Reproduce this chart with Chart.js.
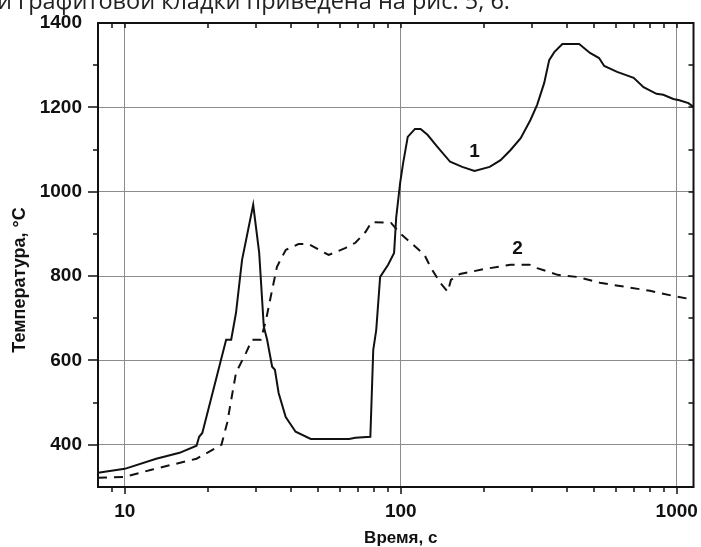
<!DOCTYPE html>
<html>
<head>
<meta charset="utf-8">
<script src="https://cdn.jsdelivr.net/npm/chart.js@4.4.0/dist/chart.umd.min.js"></script>
<style>
  body { margin: 0; background: #fff; }
  #wrap { position: relative; width: 701px; height: 547px; overflow: hidden; }
  #tempChart { position: absolute; left: 0; top: 0; }
  #caption { position: absolute; left: -3px; top: -11px; font: 23.5px/23.5px "Open Sans", sans-serif; color: #222; white-space: nowrap; }
</style>
</head>
<body>
<div id="wrap">
  <canvas id="tempChart" width="701" height="547"></canvas>
  <div id="caption">и графитовой кладки приведена на рис. 5, 6.</div>
</div>
<script>
// curve 1 (solid)
var time1 = [8, 10, 13, 15.8, 18.2, 18.6, 19.1, 23.3, 24.3, 25.3, 26.6, 29.2, 30.7, 31.9, 32.8, 34.2, 35, 36.1, 38.3, 41.6,
  47.2, 65, 68.5, 77.6, 79.5, 81.5, 84.2, 90, 94.6, 96.3, 99.5, 102, 106, 112.6, 118, 125, 136, 151, 167, 185,
  210, 230, 250, 272, 295, 312, 331, 345, 360, 385, 443, 485, 523, 546, 608, 698, 758, 844, 894, 972, 1022, 1102, 1150];
var temp1 = [334, 343, 367, 381, 398, 419, 428, 649, 649, 713, 838, 969, 855, 680, 649, 585, 578, 523, 466, 431,
  414, 414, 417, 419, 625, 672, 798, 827, 855, 940, 1021, 1068, 1130, 1149, 1149, 1135, 1106, 1071, 1059, 1049,
  1059, 1075, 1099, 1127, 1170, 1206, 1258, 1312, 1331, 1350, 1350, 1329, 1317, 1298, 1284, 1270, 1248, 1232, 1230, 1220, 1217, 1210, 1201];

// curve 2 (dashed)
var time2 = [8, 10, 12.5, 18.2, 22.4, 23.5, 25.3, 27.5, 28.9, 31.1, 32.5, 33.8, 35.6, 38.3, 42.6, 46.4, 54.8, 63.2, 68.5, 74.6,
  78.4, 92.2, 100, 108, 122, 128, 139, 148, 152, 164, 202, 250, 293, 312, 370, 436, 527, 658, 800, 972, 1150];
var temp2 = [322, 324, 341, 367, 400, 452, 571, 618, 649, 649, 696, 751, 822, 862, 876, 876, 850, 867, 879, 905,
  928, 926, 900, 881, 850, 822, 784, 763, 791, 805, 817, 827, 827, 819, 803, 798, 784, 774, 765, 753, 744];

var xMajor = [10, 100, 1000];
var xMinor = [9, 20, 30, 40, 50, 60, 70, 80, 90, 200, 300, 400, 500, 600, 700, 800, 900];
var yTicks = [400, 500, 600, 700, 800, 900, 1000, 1100, 1200, 1300];

var curveNames = ["1", "2"];
var nameTime = [185, 265];
var nameTemp = [1094, 864];

var xTitle = "Время, с";
var yTitle = "Температура, °С";

var FONT = "'Liberation Sans', Arial, sans-serif";
var INK = "#111";
var GRID = "#8c8c8c";

function points(xs, ys) {
  return xs.map(function (x, i) { return { x: x, y: ys[i] }; });
}

var frame = {
  id: "frame",
  afterDraw: function (chart) {
    var ctx = chart.ctx, a = chart.chartArea;
    var xs = chart.scales.x, ys = chart.scales.y;
    ctx.save();
    ctx.strokeStyle = INK;
    ctx.lineWidth = 1.5;
    ctx.beginPath();
    xMinor.concat(xMajor).forEach(function (v) {
      var px = Math.round(xs.getPixelForValue(v));
      var big = xMajor.indexOf(v) >= 0;
      ctx.moveTo(px, a.bottom);
      ctx.lineTo(px, a.bottom + (big ? 7 : 5));
      ctx.moveTo(px, a.top);
      ctx.lineTo(px, a.top + 5);
    });
    yTicks.forEach(function (v) {
      var py = Math.round(ys.getPixelForValue(v));
      var big = v % 200 === 0;
      ctx.moveTo(a.left, py);
      ctx.lineTo(a.left - (big ? 10 : 5), py);
      ctx.moveTo(a.right, py);
      ctx.lineTo(a.right - 5, py);
    });
    ctx.stroke();
    ctx.lineWidth = 2;
    ctx.strokeRect(a.left, a.top, a.right - a.left, a.bottom - a.top);

    ctx.fillStyle = INK;
    ctx.font = "bold 19px " + FONT;
    ctx.textAlign = "center";
    ctx.textBaseline = "middle";
    curveNames.forEach(function (n, i) {
      ctx.fillText(n, xs.getPixelForValue(nameTime[i]), ys.getPixelForValue(nameTemp[i]));
    });

    ctx.font = "bold 17px " + FONT;
    ctx.fillText(xTitle, (a.left + a.right) / 2 + 5, 538);
    ctx.font = "bold 18px " + FONT;
    ctx.translate(20, 280);
    ctx.rotate(-Math.PI / 2);
    ctx.fillText(yTitle, 0, 0);
    ctx.restore();
  }
};

var ctx = document.getElementById("tempChart").getContext("2d");

var tempChart = new Chart(ctx, {
  type: "line",
  data: {
    datasets: [
      {
        data: points(time1, temp1),
        borderColor: INK,
        borderWidth: 2,
        pointRadius: 0,
        tension: 0,
      },
      {
        data: points(time2, temp2),
        borderColor: INK,
        borderWidth: 2,
        borderDash: [9, 7],
        pointRadius: 0,
        tension: 0,
      },
    ],
  },
  options: {
    responsive: false,
    animation: false,
    layout: { padding: { top: 23, right: 4, left: 0, bottom: 0 } },
    plugins: {
      legend: { display: false },
      tooltip: { enabled: false },
    },
    scales: {
      x: {
        type: "logarithmic",
        min: 8,
        max: 1150,
        afterBuildTicks: function (scale) {
          scale.ticks = xMinor.concat(xMajor).sort(function (p, q) { return p - q; })
            .map(function (v) { return { value: v }; });
        },
        afterFit: function (scale) { scale.height = 60; },
        border: { display: false },
        grid: {
          color: function (c) {
            return c.tick && xMajor.indexOf(c.tick.value) >= 0 ? GRID : "rgba(0,0,0,0)";
          },
          lineWidth: 1,
          tickLength: 10,
          tickColor: "rgba(0,0,0,0)",
        },
        ticks: {
          autoSkip: false,
          maxRotation: 0,
          padding: 3,
          color: INK,
          font: { family: FONT, size: 19, weight: "bold" },
          callback: function (v) {
            return xMajor.indexOf(v) >= 0 ? String(v) : "";
          },
        },
      },
      y: {
        min: 300,
        max: 1400,
        afterFit: function (scale) { scale.width = 98; },
        border: { display: false },
        grid: {
          color: function (c) {
            var v = c.tick ? c.tick.value : 0;
            return v % 200 === 0 && v >= 400 && v <= 1200 ? GRID : "rgba(0,0,0,0)";
          },
          lineWidth: 1,
          tickLength: 10,
          tickColor: "rgba(0,0,0,0)",
        },
        ticks: {
          stepSize: 100,
          padding: 6,
          color: INK,
          font: { family: FONT, size: 19, weight: "bold" },
          callback: function (v) {
            return v % 200 === 0 && v >= 400 ? String(v) : "";
          },
        },
      },
    },
  },
  plugins: [frame],
});
</script>
</body>
</html>
